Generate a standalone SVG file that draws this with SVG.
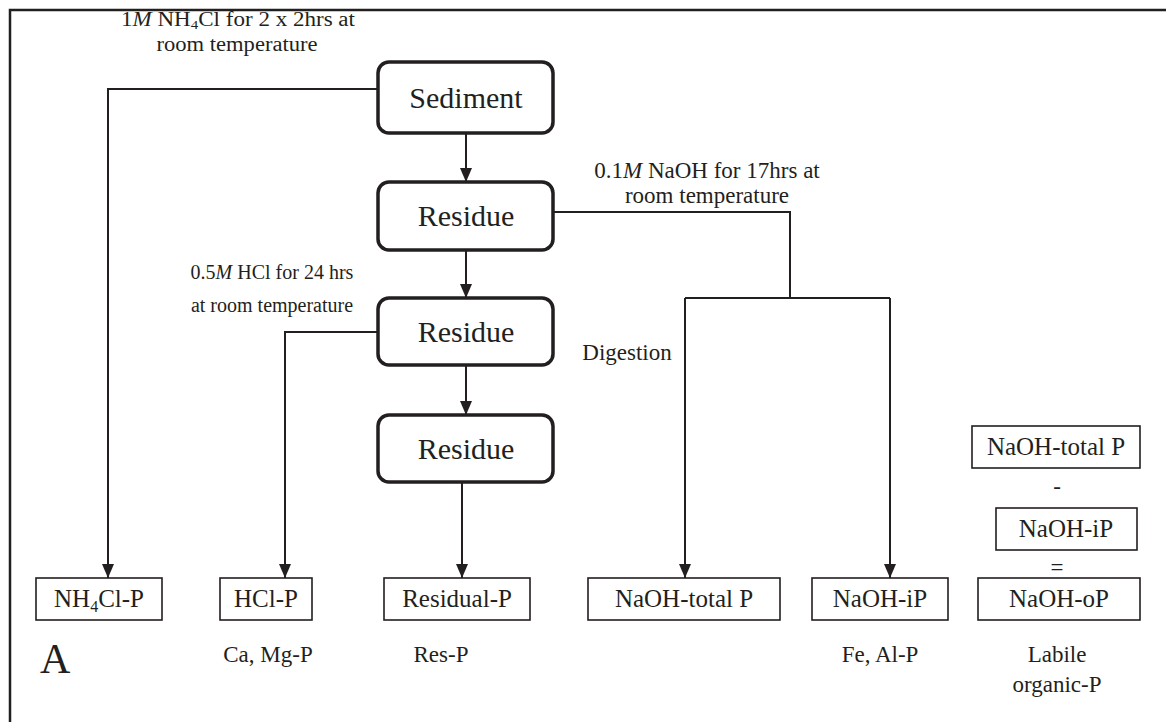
<svg xmlns="http://www.w3.org/2000/svg" width="1166" height="722" viewBox="0 0 1166 722">
<defs>
<marker id="arr" markerWidth="14" markerHeight="12" refX="14" refY="6" orient="auto" markerUnits="userSpaceOnUse" viewBox="0 0 14 12">
<path d="M0,0 L14,6 L0,12 Z" fill="#231f20"/>
</marker>
</defs>
<style>
text{font-family:"Liberation Serif","Times New Roman",serif;fill:#231f20;}
.big{font-size:30px;text-anchor:middle;}
.bl{font-size:25px;text-anchor:middle;}
.lbl{font-size:23px;text-anchor:middle;}
.sm{font-size:20px;text-anchor:middle;}
.rbox{fill:#fff;stroke:#231f20;stroke-width:3.5;}
.box{fill:#fff;stroke:#231f20;stroke-width:1.6;}
.con{fill:none;stroke:#231f20;stroke-width:2;}
.arrow{fill:none;stroke:#231f20;stroke-width:2;marker-end:url(#arr);}
</style>
<rect width="1166" height="722" fill="#fff"/>
<path d="M10,722 L10,10 L1166,10" fill="none" stroke="#231f20" stroke-width="2.5"/>

<g id="connectors">
<path class="arrow" d="M378,89 L108,89 L108,578"/>
<path class="arrow" d="M466,133 L466,182"/>
<path class="con" d="M553,212 L790,212 L790,298"/>
<path class="con" d="M685,298 L890,298"/>
<path class="arrow" d="M685,298 L685,578"/>
<path class="arrow" d="M890,298 L890,578"/>
<path class="arrow" d="M466,250 L466,298"/>
<path class="arrow" d="M378,332 L285,332 L285,578"/>
<path class="arrow" d="M466,365 L466,415"/>
<path class="arrow" d="M462,482 L462,578"/>
</g>

<g id="labels">
<text class="sm" font-size="21" x="238" y="26" textLength="234" lengthAdjust="spacingAndGlyphs">1<tspan font-style="italic">M</tspan> NH<tspan font-size="13" dy="3">4</tspan><tspan dy="-3">Cl for 2 x 2hrs at</tspan></text>
<text class="sm" font-size="21" x="237" y="51" textLength="161" lengthAdjust="spacingAndGlyphs">room temperature</text>
<text class="lbl" x="707" y="178">0.1<tspan font-style="italic">M</tspan> NaOH for 17hrs at</text>
<text class="lbl" x="707" y="203">room temperature</text>
<text class="sm" x="272" y="279">0.5<tspan font-style="italic">M</tspan> HCl for 24 hrs</text>
<text class="sm" x="272" y="312">at room temperature</text>
<text class="lbl" x="627" y="360">Digestion</text>
</g>

<g id="sediment"><rect class="rbox" x="378" y="62" width="175" height="71" rx="11"/><text class="big" x="466" y="108">Sediment</text></g>
<g id="residue1"><rect class="rbox" x="378" y="182" width="175" height="68" rx="11"/><text class="big" x="466" y="226">Residue</text></g>
<g id="residue2"><rect class="rbox" x="378" y="298" width="175" height="67" rx="11"/><text class="big" x="466" y="342">Residue</text></g>
<g id="residue3"><rect class="rbox" x="378" y="415" width="175" height="67" rx="11"/><text class="big" x="466" y="459">Residue</text></g>

<g id="nh4clp"><rect class="box" x="36" y="578" width="126" height="42"/><text class="bl" x="99" y="607">NH<tspan font-size="16" dy="5">4</tspan><tspan dy="-5">Cl-P</tspan></text></g>
<g id="hclp"><rect class="box" x="220" y="578" width="92" height="42"/><text class="bl" x="266" y="607">HCl-P</text></g>
<g id="residualp"><rect class="box" x="384" y="578" width="146" height="42"/><text class="bl" x="457" y="607">Residual-P</text></g>
<g id="naohtotal"><rect class="box" x="588" y="578" width="192" height="42"/><text class="bl" x="684" y="607">NaOH-total P</text></g>
<g id="naohip"><rect class="box" x="812" y="578" width="136" height="42"/><text class="bl" x="880" y="607">NaOH-iP</text></g>
<g id="naohop"><rect class="box" x="978" y="578" width="162" height="42"/><text class="bl" x="1059" y="607">NaOH-oP</text></g>
<g id="naohtotal2"><rect class="box" x="972" y="426" width="168" height="42"/><text class="bl" x="1056" y="455">NaOH-total P</text></g>
<g id="minus"><text class="lbl" x="1057" y="494">-</text></g>
<g id="naohip2"><rect class="box" x="996" y="508" width="141" height="42"/><text class="bl" x="1066" y="537">NaOH-iP</text></g>
<g id="equals"><text class="lbl" x="1057" y="575">=</text></g>

<g id="notes">
<text x="40" y="673" font-size="42">A</text>
<text class="lbl" x="268" y="662">Ca, Mg-P</text>
<text class="lbl" x="441" y="662">Res-P</text>
<text class="lbl" x="880" y="662">Fe, Al-P</text>
<text class="lbl" x="1057" y="662">Labile</text>
<text class="lbl" x="1057" y="692">organic-P</text>
</g>
</svg>
